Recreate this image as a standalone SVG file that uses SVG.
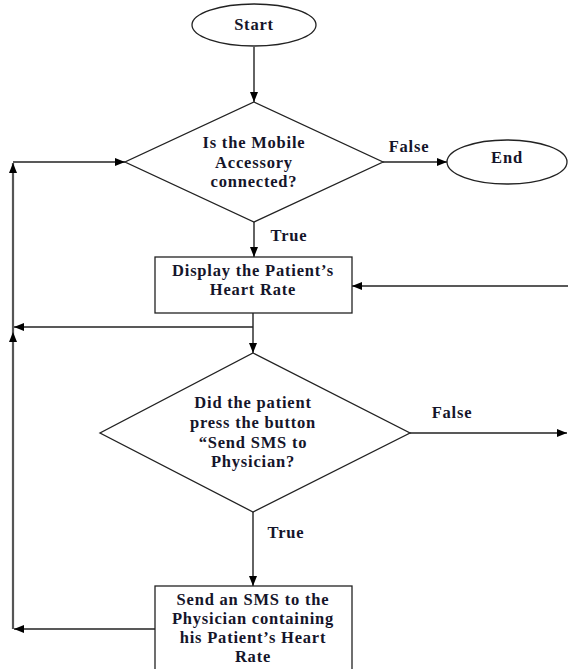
<svg xmlns="http://www.w3.org/2000/svg" width="568" height="669" viewBox="0 0 568 669">
<style>
.t{font-family:"Liberation Serif","Times New Roman",serif;font-weight:bold;font-size:16.5px;letter-spacing:0.8px;fill:#15152a;text-anchor:middle}
.s{fill:#fff;stroke:#222;stroke-width:1.3}
.c{fill:none;stroke:#222;stroke-width:1.4}
.g{fill:none;stroke:#555;stroke-width:2.2}
</style>
<defs>
<marker id="a" viewBox="0 0 10 10" refX="10" refY="5" markerWidth="10" markerHeight="10" markerUnits="userSpaceOnUse" orient="auto">
<path d="M0,1 L10,5 L0,9 Z" fill="#000"/>
</marker>
</defs>
<g id="connectors">
<line class="c" x1="254" y1="47" x2="254" y2="102" marker-end="url(#a)"/>
<line class="c" x1="383" y1="162" x2="447" y2="162" marker-end="url(#a)"/>
<line class="c" x1="254" y1="222" x2="254" y2="257" marker-end="url(#a)"/>
<line class="c" x1="568" y1="286" x2="352" y2="286" marker-end="url(#a)"/>
<line class="c" x1="253" y1="313" x2="253" y2="353" marker-end="url(#a)"/>
<line class="c" x1="253" y1="327" x2="14" y2="327" marker-end="url(#a)"/>
<line class="c" x1="410" y1="433" x2="567" y2="433" marker-end="url(#a)"/>
<line class="c" x1="253" y1="512" x2="253" y2="586" marker-end="url(#a)"/>
<line class="c" x1="155" y1="629" x2="14" y2="629" marker-end="url(#a)"/>
<line class="g" x1="13" y1="629" x2="13" y2="332" marker-end="url(#a)"/>
<line class="g" x1="13" y1="332" x2="13" y2="163" marker-end="url(#a)"/>
<line class="c" x1="13" y1="162" x2="125" y2="162" marker-end="url(#a)"/>
<text class="t" x="409" y="152">False</text>
<text class="t" x="289" y="241">True</text>
<text class="t" x="452" y="418">False</text>
<text class="t" x="286" y="538">True</text>
</g>
<g id="start">
<ellipse class="s" cx="254" cy="25" rx="62" ry="21"/>
<text class="t" x="254" y="30">Start</text>
</g>
<g id="end">
<ellipse class="s" cx="507" cy="162" rx="60" ry="22"/>
<text class="t" x="507" y="163">End</text>
</g>
<g id="decision1">
<polygon class="s" points="254,102 383,162 254,222 125,162"/>
<text class="t" x="254" y="148">Is the Mobile</text>
<text class="t" x="254" y="168">Accessory</text>
<text class="t" x="254" y="187">connected?</text>
</g>
<g id="display">
<rect class="s" x="155" y="257" width="197" height="56"/>
<text class="t" x="253" y="276">Display the Patient’s</text>
<text class="t" x="253" y="295">Heart Rate</text>
</g>
<g id="decision2">
<polygon class="s" points="253,353 410,433 253,512 100,433"/>
<text class="t" x="253" y="408">Did the patient</text>
<text class="t" x="253" y="428">press the button</text>
<text class="t" x="253" y="448">“Send SMS to</text>
<text class="t" x="253" y="467">Physician?</text>
</g>
<g id="sendsms">
<rect class="s" x="155" y="586" width="197" height="90"/>
<text class="t" x="253" y="605">Send an SMS to the</text>
<text class="t" x="253" y="624">Physician containing</text>
<text class="t" x="253" y="643">his Patient’s Heart</text>
<text class="t" x="253" y="662">Rate</text>
</g>
</svg>
